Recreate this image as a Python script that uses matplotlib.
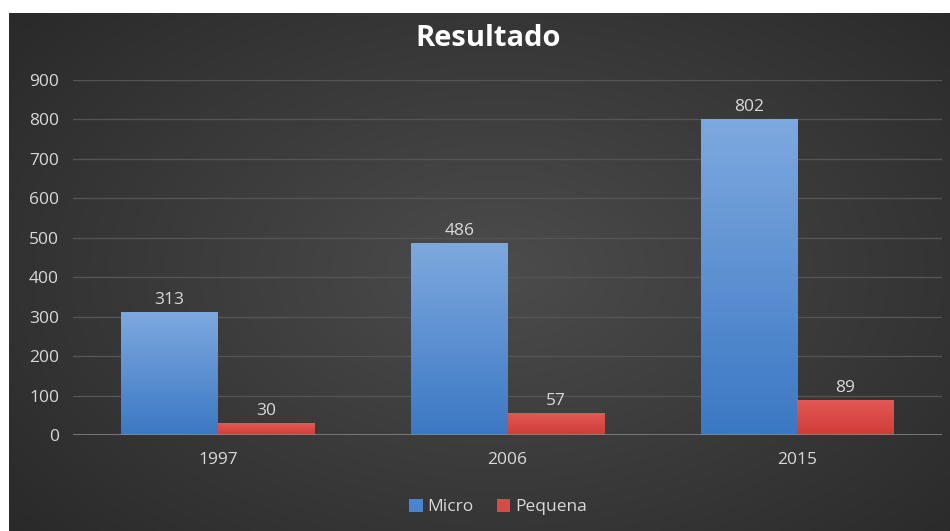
import numpy as np
import matplotlib
matplotlib.use("Agg")
import matplotlib.pyplot as plt
from matplotlib.colors import LinearSegmentedColormap
from matplotlib.patches import Patch

categories = ["1997", "2006", "2015"]
micro = [313, 486, 802]
pequena = [30, 57, 89]
series_names = ["Micro", "Pequena"]
yticks = [0, 100, 200, 300, 400, 500, 600, 700, 800, 900]

plt.rcParams['font.family'] = ['Open Sans', 'DejaVu Sans']

W, H = 950, 531
fig = plt.figure(figsize=(W / 100, H / 100), dpi=100)
fig.patch.set_facecolor("white")

# dark radial background
bx0, by1 = 9 / W, 1 - 13 / H
bg = fig.add_axes([bx0, 0, 1 - bx0, by1])
bg.set_axis_off()
yy, xx = np.mgrid[0:1:300j, 0:1:500j]
r = np.sqrt(((xx - 0.52) / 0.75) ** 2 + ((yy - 0.5) / 0.85) ** 2)
r = np.clip(r, 0, 1)
c_center = np.array([0x4c, 0x4c, 0x4c]) / 255
c_edge = np.array([0x26, 0x26, 0x26]) / 255
img = c_center[None, None, :] * (1 - r[..., None]) + c_edge[None, None, :] * r[..., None]
bg.imshow(img, aspect="auto", extent=[0, 1, 0, 1], origin="lower")
bg.set_xlim(0, 1)
bg.set_ylim(0, 1)

ax = fig.add_axes([73 / W, (H - 435) / H, (942 - 73) / W, (435 - 80) / H])
ax.patch.set_alpha(0)
x = np.arange(len(categories))
bw = 1 / 3

blue_cm = LinearSegmentedColormap.from_list("b", ["#3b78c4", "#7ea9df"])
red_cm = LinearSegmentedColormap.from_list("r", ["#d03c38", "#e25a56"])

def grad_bars(xpos, vals, cmap):
    bars = ax.bar(xpos, vals, bw, color="none", edgecolor="none", zorder=3)
    grad = np.linspace(0, 1, 256).reshape(-1, 1)
    for b in bars:
        x0, y0 = b.get_x(), b.get_y()
        w, h = b.get_width(), b.get_height()
        im = ax.imshow(grad, cmap=cmap, aspect="auto", origin="lower",
                       extent=[x0, x0 + w, y0, y0 + h], zorder=3)
        im.set_clip_path(b)
    return bars

grad_bars(x - bw / 2, micro, blue_cm)
grad_bars(x + bw / 2, pequena, red_cm)

for xs, vals in ((x - bw / 2, micro), (x + bw / 2, pequena)):
    for xi, v in zip(xs, vals):
        ax.text(xi, v + 10, str(v), ha="center", va="bottom", color="#d9d9d9",
                fontsize=12.5, zorder=5)

ax.set_xlim(-0.5, len(categories) - 0.5)
ax.set_ylim(0, 900)
ax.set_yticks(yticks)
ax.set_xticks(x)
ax.set_xticklabels(categories)
ax.tick_params(axis="both", length=0, colors="#d9d9d9", labelsize=12.5)
ax.tick_params(axis="y", pad=10)
ax.tick_params(axis="x", pad=12)
for s in ax.spines.values():
    s.set_visible(False)
ax.grid(axis="y", color="#545454", linewidth=1.0, zorder=0)
ax.set_axisbelow(True)
ax.axhline(0, color="#8a8a8a", linewidth=1.8, zorder=4)

fig.text(488 / W, 1 - 38 / H, "Resultado", ha="center", va="center",
         color="white", fontsize=21, fontweight="bold")

handles = [Patch(facecolor="#4a86d0", edgecolor="none"),
           Patch(facecolor="#d84a46", edgecolor="none")]
leg = fig.legend(handles, series_names, loc="center", bbox_to_anchor=(498 / W, 1 - 507 / H),
                 ncol=2, frameon=False, fontsize=12.5, handlelength=0.75, handleheight=0.75,
                 handletextpad=0.25, columnspacing=1.4)
for t in leg.get_texts():
    t.set_color("#d9d9d9")

fig.savefig("out.png", dpi=100, facecolor=fig.get_facecolor())
